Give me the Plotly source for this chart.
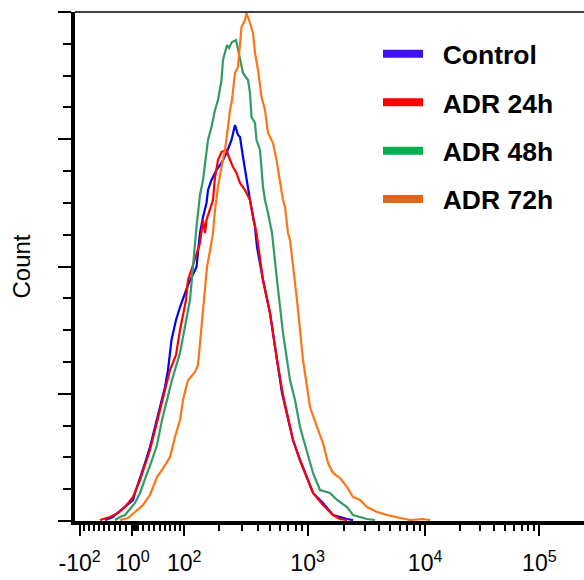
import numpy as np
import plotly.graph_objects as go

# ---------------- data (logicle display channel 0..1023, event count) -------------
series_names = ["Control", "ADR 24h", "ADR 48h", "ADR 72h"]

ch_control = [60, 76, 80, 100, 116, 120, 134, 140, 150, 160, 170, 180, 186, 193, 202, 210, 226, 243, 250, 256,
              263, 266, 273, 283, 293, 303, 313, 320, 326, 330, 336, 343, 350, 360, 364, 376, 390, 404, 414, 430,
              436, 450, 464, 476, 496, 516, 544, 556]
cnt_control = [1, 4, 6, 14, 21, 28, 48, 58, 74, 94, 114, 134, 151, 181, 201, 214, 236, 254, 288, 304,
               318, 331, 341, 351, 358, 368, 381, 396, 386, 384, 364, 341, 321, 294, 274, 241, 208, 161, 128, 94,
               81, 61, 44, 28, 18, 6, 2, 1]

ch_adr24 = [50, 70, 86, 100, 116, 130, 140, 150, 160, 170, 180, 190, 202, 210, 222, 226, 236, 250, 256, 260,
            263, 270, 276, 280, 286, 293, 303, 310, 316, 323, 330, 340, 350, 356, 363, 376, 390, 404, 416, 430,
            436, 450, 464, 476, 496, 516, 530, 544]
cnt_adr24 = [1, 4, 8, 14, 24, 41, 56, 71, 91, 111, 131, 151, 166, 191, 221, 241, 256, 278, 301, 288,
             301, 311, 321, 344, 361, 369, 371, 361, 354, 348, 338, 331, 321, 304, 288, 241, 208, 161, 126, 94,
             81, 61, 44, 28, 16, 6, 2, 1]

ch_adr48 = [80, 90, 100, 120, 130, 140, 154, 164, 174, 184, 194, 210, 230, 243, 250, 256, 263, 266, 273, 280,
            286, 293, 296, 304, 308, 314, 322, 330, 336, 346, 350, 353, 360, 363, 370, 376, 380, 386, 394, 404,
            416, 430, 440, 450, 464, 476, 490, 510, 524, 544, 556, 584, 600]
cnt_adr48 = [1, 4, 6, 18, 28, 41, 61, 76, 101, 121, 141, 168, 221, 294, 326, 341, 371, 381, 394, 411,
             421, 441, 461, 476, 473, 479, 481, 464, 448, 441, 428, 404, 398, 381, 371, 334, 321, 308, 288, 241,
             188, 141, 121, 94, 68, 48, 31, 28, 21, 14, 6, 2, 1]

ch_adr72 = [90, 106, 120, 136, 150, 164, 174, 190, 200, 210, 216, 226, 230, 240, 246, 256, 264, 272, 276, 280,
            286, 293, 300, 306, 310, 314, 320, 326, 333, 340, 343, 350, 356, 360, 366, 373, 380, 386, 396, 403,
            410, 416, 420, 426, 430, 444, 456, 470, 484, 496, 506, 516, 530, 544, 556, 570, 584, 604, 624, 650,
            670, 696, 710]
cnt_adr72 = [1, 3, 9, 16, 26, 44, 51, 64, 84, 101, 121, 141, 143, 149, 156, 214, 254, 276, 288, 311,
             334, 354, 371, 394, 411, 421, 448, 454, 494, 501, 508, 498, 488, 468, 451, 424, 411, 388, 378, 361,
             341, 321, 314, 288, 281, 221, 161, 114, 94, 78, 58, 48, 43, 34, 24, 21, 14, 9, 6, 3,
             1, 2, 1]

major_tick_values = [-100, 1, 100, 1000, 10000, 100000]
major_tick_labels = ["-10<sup>2</sup>", "10<sup>0</sup>", "10<sup>2</sup>",
                     "10<sup>3</sup>", "10<sup>4</sup>", "10<sup>5</sup>"]

# ---------------- logicle (biexponential) scale ----------------
T, W, M, A = 262144.0, 0.5, 4.5, 0.0
N_CH = 1024


def logicle_setup(T, W, M, A):
    ln10 = np.log(10.0)
    w = W / (M + A)
    x2 = A / (M + A)
    x1 = x2 + w
    x0 = x2 + 2 * w
    b = (M + A) * ln10
    lo, hi = 1e-9, b
    for _ in range(200):
        d = 0.5 * (lo + hi)
        fd = 2 * (np.log(d) - np.log(b)) + w * (b + d)
        if fd > 0:
            hi = d
        else:
            lo = d
    d = 0.5 * (lo + hi)
    ca = np.exp(x0 * (b + d))
    mfa = np.exp(b * x1) - ca * np.exp(-d * x1)
    a = T / (np.exp(b) - mfa - ca * np.exp(-d))
    return dict(a=a, b=b, c=ca * a, d=d, f=-mfa * a, x1=x1)


P = logicle_setup(T, W, M, A)


def S(y):
    y = np.asarray(y, dtype=float)
    yy = np.where(y >= P["x1"], y, 2 * P["x1"] - y)
    s = P["a"] * np.exp(P["b"] * yy) - P["c"] * np.exp(-P["d"] * yy) + P["f"]
    return np.where(y >= P["x1"], s, -s)


def to_channel(v):
    v = np.asarray(v, dtype=float)
    lo = np.full(v.shape, -1.0)
    hi = np.full(v.shape, 1.5)
    for _ in range(80):
        mid = 0.5 * (lo + hi)
        gt = S(mid) > v
        hi = np.where(gt, mid, hi)
        lo = np.where(gt, lo, mid)
    return 0.5 * (lo + hi) * N_CH


minor_vals = (list(range(-90, 0, 10)) + list(range(2, 10)) + list(range(10, 100, 10))
              + [k * 10 ** e for e in (2, 3, 4) for k in range(2, 10)])

major_ch = to_channel(major_tick_values).tolist()
minor_ch = to_channel(minor_vals).tolist()

# ---------------- figure ----------------
W_PX, H_PX = 584, 580
L, R, TOP, B = 75, 0, 12, 59
x_max = (W_PX - L - R) / 512 * N_CH
Y_MAX = 509
PLOT_H = H_PX - TOP - B

line_colors = ["#0000FF", "#FF0000", "#339966", "#FF7415"]
legend_colors = ["#4010F0", "#FF0000", "#00B050", "#E2661A"]
xs = [ch_control, ch_adr24, ch_adr48, ch_adr72]
ys = [cnt_control, cnt_adr24, cnt_adr48, cnt_adr72]

fig = go.Figure()
for name, x, y, col in zip(series_names, xs, ys, line_colors):
    fig.add_trace(go.Scatter(x=x, y=y, mode="lines", name=name, showlegend=False,
                             line=dict(color=col, width=2.2)))
NBSP = "\u00a0"
for name, col in zip(series_names, legend_colors):
    fig.add_trace(go.Scatter(x=[None], y=[None], mode="lines", name=NBSP * 2 + name, legendgroup=name,
                             line=dict(color=col, width=8)))

font_family = "Liberation Sans, Arial, sans-serif"

fig.update_layout(
    width=W_PX, height=H_PX,
    margin=dict(l=L, r=R, t=TOP, b=B, pad=0),
    plot_bgcolor="white", paper_bgcolor="white",
    font=dict(family=font_family, color="black"),
    showlegend=True,
    legend=dict(x=(378 - L) / (W_PX - L), xanchor="left", y=1 - (30 - TOP) / PLOT_H,
                yanchor="top", bgcolor="rgba(0,0,0,0)", tracegroupgap=11, itemwidth=40,
                font=dict(size=26.5, family=font_family, color="black", weight="bold")),
    xaxis=dict(range=[0, x_max], showgrid=False, zeroline=False, showline=True,
               linecolor="black", linewidth=3.5, automargin=False,
               tickmode="array", tickvals=major_ch, ticktext=major_tick_labels,
               ticks="outside", ticklen=11, tickwidth=2, tickcolor="black",
               ticklabelstandoff=8,
               tickfont=dict(size=23, family=font_family, color="black"),
               minor=dict(tickmode="array", tickvals=minor_ch, ticks="outside",
                          ticklen=6, tickwidth=2, tickcolor="black", showgrid=False)),
    yaxis=dict(range=[0, Y_MAX], showgrid=False, zeroline=False, showline=True,
               linecolor="black", linewidth=3.5, automargin=False,
               tickmode="array", tickvals=np.linspace(0, Y_MAX, 5).tolist(), showticklabels=False,
               ticks="outside", ticklen=13, tickwidth=2, tickcolor="black",
               minor=dict(tickmode="array", tickvals=np.linspace(0, Y_MAX, 17).tolist(),
                          ticks="outside", ticklen=8, tickwidth=2, tickcolor="black", showgrid=False),
               title=dict(text="Count", standoff=22,
                          font=dict(size=24, family=font_family, color="black"))),
    shapes=[dict(type="line", xref="paper", yref="paper", x0=0, x1=1, y0=1, y1=1,
                 line=dict(color="black", width=1.5))],
)

fig.write_html("out.html", config={"displayModeBar": False},
               post_script="document.body.style.margin='0';document.body.style.overflow='hidden';")
